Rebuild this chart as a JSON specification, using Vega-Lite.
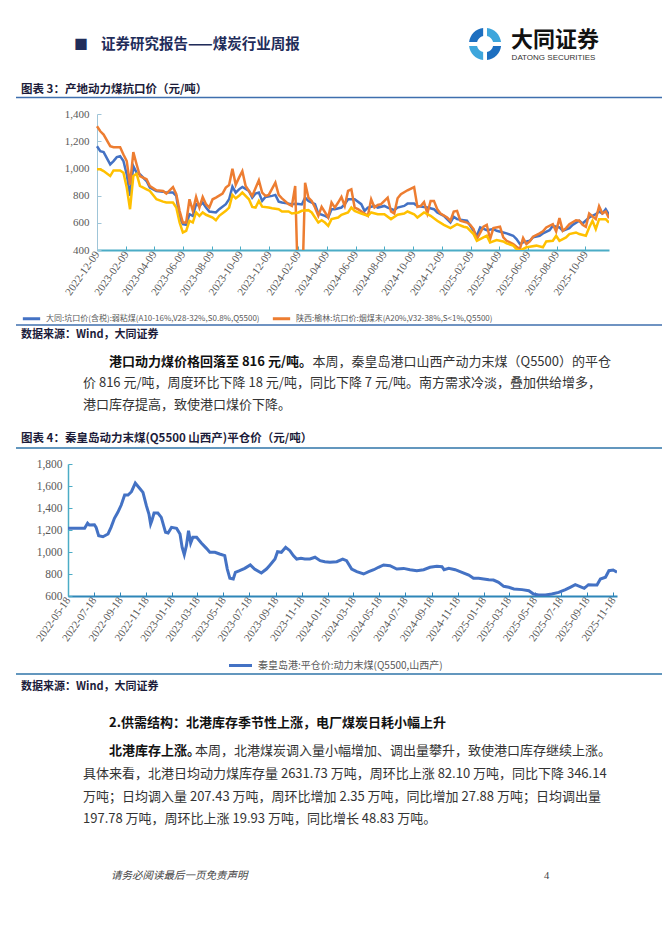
{
"$schema": "https://vega.github.io/schema/vega-lite/v6.json",
"background": "white",
"padding": {"left": 15, "top": 0, "right": 0, "bottom": 0},
"bounds": "flush",
"spacing": 0,
"resolve": {"scale": {"color": "independent"}, "legend": {"color": "independent"}},
"config": {
  "view": {"stroke": null},
  "font": "Noto Sans CJK SC",
  "text": {"font": "Noto Sans CJK SC", "baseline": "middle", "align": "left", "color": "#222222"},
  "axis": {"grid": false, "title": null, "labelFont": "Liberation Serif", "labelColor": "#595959", "labelFlush": false, "labelOverlap": false}
},
"datasets": {
"dt": [
{"date":"2022-12-09","v":1163},{"date":"2022-12-16","v":1127},{"date":"2022-12-23","v":1120},{"date":"2023-01-06","v":1029},{"date":"2023-01-13","v":1054},{"date":"2023-01-20","v":1083},{"date":"2023-01-27","v":1090},{"date":"2023-02-03","v":1054},{"date":"2023-02-10","v":956},{"date":"2023-02-17","v":798},{"date":"2023-02-24","v":1017},{"date":"2023-03-03","v":968},{"date":"2023-03-10","v":956},{"date":"2023-03-24","v":907},{"date":"2023-03-31","v":859},{"date":"2023-04-14","v":834},{"date":"2023-04-28","v":829},{"date":"2023-05-05","v":822},{"date":"2023-05-19","v":822},{"date":"2023-05-26","v":798},{"date":"2023-06-02","v":639},{"date":"2023-06-09","v":590},{"date":"2023-06-16","v":585},{"date":"2023-06-23","v":663},{"date":"2023-06-30","v":651},{"date":"2023-07-07","v":737},{"date":"2023-07-14","v":724},{"date":"2023-07-21","v":749},{"date":"2023-07-28","v":712},{"date":"2023-08-04","v":683},{"date":"2023-08-18","v":676},{"date":"2023-08-25","v":700},{"date":"2023-09-08","v":737},{"date":"2023-09-15","v":773},{"date":"2023-09-22","v":866},{"date":"2023-09-29","v":822},{"date":"2023-10-06","v":846},{"date":"2023-10-13","v":863},{"date":"2023-10-27","v":834},{"date":"2023-11-03","v":785},{"date":"2023-11-10","v":815},{"date":"2023-11-17","v":822},{"date":"2023-11-24","v":761},{"date":"2023-12-01","v":790},{"date":"2023-12-15","v":798},{"date":"2023-12-22","v":805},{"date":"2023-12-29","v":756},{"date":"2024-01-05","v":749},{"date":"2024-01-19","v":741},{"date":"2024-01-26","v":737},{"date":"2024-02-02","v":740},{"date":"2024-02-09","v":738},{"date":"2024-02-16","v":735},{"date":"2024-02-23","v":785},{"date":"2024-03-01","v":761},{"date":"2024-03-15","v":737},{"date":"2024-03-22","v":668},{"date":"2024-04-05","v":651},{"date":"2024-04-12","v":639},{"date":"2024-04-19","v":700},{"date":"2024-04-26","v":700},{"date":"2024-05-10","v":712},{"date":"2024-05-17","v":737},{"date":"2024-05-24","v":773},{"date":"2024-05-31","v":773},{"date":"2024-06-07","v":773},{"date":"2024-06-21","v":737},{"date":"2024-06-28","v":688},{"date":"2024-07-05","v":712},{"date":"2024-07-19","v":724},{"date":"2024-07-26","v":712},{"date":"2024-08-09","v":724},{"date":"2024-08-16","v":712},{"date":"2024-08-30","v":693},{"date":"2024-09-06","v":712},{"date":"2024-09-20","v":724},{"date":"2024-09-27","v":741},{"date":"2024-10-11","v":741},{"date":"2024-10-18","v":724},{"date":"2024-11-01","v":717},{"date":"2024-11-08","v":712},{"date":"2024-11-22","v":700},{"date":"2024-11-29","v":676},{"date":"2024-12-13","v":651},{"date":"2024-12-27","v":602},{"date":"2025-01-03","v":644},{"date":"2025-01-10","v":627},{"date":"2025-01-24","v":619},{"date":"2025-01-31","v":615},{"date":"2025-02-14","v":541},{"date":"2025-02-21","v":505},{"date":"2025-02-28","v":566},{"date":"2025-03-14","v":546},{"date":"2025-03-28","v":554},{"date":"2025-04-04","v":541},{"date":"2025-04-18","v":529},{"date":"2025-04-25","v":522},{"date":"2025-05-09","v":505},{"date":"2025-05-16","v":480},{"date":"2025-05-23","v":444},{"date":"2025-05-30","v":456},{"date":"2025-06-13","v":468},{"date":"2025-06-20","v":493},{"date":"2025-07-04","v":505},{"date":"2025-07-11","v":522},{"date":"2025-07-25","v":546},{"date":"2025-08-01","v":578},{"date":"2025-08-15","v":566},{"date":"2025-08-22","v":541},{"date":"2025-09-05","v":561},{"date":"2025-09-12","v":585},{"date":"2025-09-26","v":615},{"date":"2025-10-03","v":595},{"date":"2025-10-17","v":639},{"date":"2025-10-24","v":651},{"date":"2025-10-31","v":663},{"date":"2025-11-07","v":683},{"date":"2025-11-14","v":668},{"date":"2025-11-21","v":700},{"date":"2025-11-28","v":659}
],
"sx": [
{"date":"2022-12-09","v":1310},{"date":"2022-12-16","v":1273},{"date":"2022-12-23","v":1249},{"date":"2023-01-06","v":1163},{"date":"2023-01-13","v":1156},{"date":"2023-01-27","v":1156},{"date":"2023-02-03","v":1102},{"date":"2023-02-10","v":1054},{"date":"2023-02-17","v":880},{"date":"2023-02-24","v":1120},{"date":"2023-03-03","v":1029},{"date":"2023-03-10","v":944},{"date":"2023-03-24","v":920},{"date":"2023-03-31","v":871},{"date":"2023-04-14","v":839},{"date":"2023-04-28","v":834},{"date":"2023-05-05","v":815},{"date":"2023-05-19","v":863},{"date":"2023-05-26","v":810},{"date":"2023-06-02","v":688},{"date":"2023-06-09","v":602},{"date":"2023-06-16","v":602},{"date":"2023-06-23","v":773},{"date":"2023-06-30","v":688},{"date":"2023-07-07","v":790},{"date":"2023-07-14","v":712},{"date":"2023-07-21","v":790},{"date":"2023-07-28","v":737},{"date":"2023-08-04","v":712},{"date":"2023-08-11","v":773},{"date":"2023-08-18","v":785},{"date":"2023-09-01","v":815},{"date":"2023-09-08","v":859},{"date":"2023-09-15","v":878},{"date":"2023-09-22","v":998},{"date":"2023-09-29","v":880},{"date":"2023-10-06","v":932},{"date":"2023-10-13","v":980},{"date":"2023-10-20","v":871},{"date":"2023-10-27","v":834},{"date":"2023-11-03","v":798},{"date":"2023-11-17","v":913},{"date":"2023-11-24","v":822},{"date":"2023-12-01","v":798},{"date":"2023-12-08","v":805},{"date":"2023-12-22","v":895},{"date":"2023-12-29","v":805},{"date":"2024-01-05","v":780},{"date":"2024-01-19","v":737},{"date":"2024-01-26","v":724},{"date":"2024-02-02","v":871},{"date":"2024-02-09","v":0},{"date":"2024-02-16","v":0},{"date":"2024-02-23","v":895},{"date":"2024-03-01","v":785},{"date":"2024-03-08","v":761},{"date":"2024-03-15","v":712},{"date":"2024-03-22","v":651},{"date":"2024-03-29","v":717},{"date":"2024-04-12","v":639},{"date":"2024-04-19","v":749},{"date":"2024-04-26","v":712},{"date":"2024-05-03","v":749},{"date":"2024-05-10","v":790},{"date":"2024-05-17","v":724},{"date":"2024-05-24","v":834},{"date":"2024-05-31","v":846},{"date":"2024-06-07","v":712},{"date":"2024-06-14","v":700},{"date":"2024-06-28","v":668},{"date":"2024-07-05","v":651},{"date":"2024-07-12","v":773},{"date":"2024-07-19","v":712},{"date":"2024-07-26","v":731},{"date":"2024-08-02","v":737},{"date":"2024-08-16","v":785},{"date":"2024-08-23","v":683},{"date":"2024-08-30","v":668},{"date":"2024-09-06","v":780},{"date":"2024-09-13","v":810},{"date":"2024-09-27","v":839},{"date":"2024-10-11","v":863},{"date":"2024-10-18","v":717},{"date":"2024-10-25","v":724},{"date":"2024-11-01","v":753},{"date":"2024-11-08","v":668},{"date":"2024-11-15","v":761},{"date":"2024-11-22","v":761},{"date":"2024-11-29","v":700},{"date":"2024-12-06","v":668},{"date":"2024-12-20","v":639},{"date":"2024-12-27","v":615},{"date":"2025-01-03","v":683},{"date":"2025-01-10","v":688},{"date":"2025-01-17","v":615},{"date":"2025-01-31","v":602},{"date":"2025-02-07","v":585},{"date":"2025-02-14","v":554},{"date":"2025-02-21","v":480},{"date":"2025-03-07","v":571},{"date":"2025-03-14","v":585},{"date":"2025-03-21","v":480},{"date":"2025-03-28","v":561},{"date":"2025-04-11","v":571},{"date":"2025-04-18","v":493},{"date":"2025-04-25","v":468},{"date":"2025-05-09","v":444},{"date":"2025-05-16","v":424},{"date":"2025-05-23","v":407},{"date":"2025-05-30","v":488},{"date":"2025-06-06","v":444},{"date":"2025-06-13","v":463},{"date":"2025-06-20","v":498},{"date":"2025-07-04","v":522},{"date":"2025-07-11","v":537},{"date":"2025-07-18","v":566},{"date":"2025-08-01","v":590},{"date":"2025-08-08","v":537},{"date":"2025-08-15","v":634},{"date":"2025-08-22","v":541},{"date":"2025-08-29","v":561},{"date":"2025-09-05","v":590},{"date":"2025-09-19","v":619},{"date":"2025-09-26","v":615},{"date":"2025-10-03","v":585},{"date":"2025-10-10","v":571},{"date":"2025-10-17","v":668},{"date":"2025-10-31","v":627},{"date":"2025-11-07","v":722},{"date":"2025-11-14","v":668},{"date":"2025-11-21","v":683},{"date":"2025-11-28","v":634}
],
"s3": [
{"date":"2022-12-09","v":993},{"date":"2022-12-16","v":993},{"date":"2022-12-23","v":980},{"date":"2023-01-06","v":944},{"date":"2023-01-13","v":985},{"date":"2023-01-27","v":985},{"date":"2023-02-03","v":968},{"date":"2023-02-10","v":859},{"date":"2023-02-17","v":700},{"date":"2023-02-24","v":944},{"date":"2023-03-03","v":961},{"date":"2023-03-10","v":871},{"date":"2023-03-24","v":846},{"date":"2023-03-31","v":834},{"date":"2023-04-14","v":773},{"date":"2023-04-28","v":756},{"date":"2023-05-05","v":749},{"date":"2023-05-19","v":749},{"date":"2023-05-26","v":712},{"date":"2023-06-02","v":602},{"date":"2023-06-09","v":529},{"date":"2023-06-16","v":541},{"date":"2023-06-23","v":615},{"date":"2023-06-30","v":602},{"date":"2023-07-07","v":676},{"date":"2023-07-14","v":651},{"date":"2023-07-21","v":676},{"date":"2023-07-28","v":659},{"date":"2023-08-11","v":639},{"date":"2023-08-18","v":619},{"date":"2023-08-25","v":651},{"date":"2023-09-08","v":688},{"date":"2023-09-15","v":712},{"date":"2023-09-22","v":805},{"date":"2023-09-29","v":780},{"date":"2023-10-06","v":798},{"date":"2023-10-13","v":822},{"date":"2023-10-27","v":773},{"date":"2023-11-03","v":717},{"date":"2023-11-10","v":712},{"date":"2023-11-17","v":761},{"date":"2023-11-24","v":719},{"date":"2023-12-08","v":712},{"date":"2023-12-15","v":707},{"date":"2023-12-29","v":700},{"date":"2024-01-05","v":683},{"date":"2024-01-19","v":683},{"date":"2024-01-26","v":668},{"date":"2024-02-09","v":676},{"date":"2024-02-16","v":688},{"date":"2024-03-01","v":693},{"date":"2024-03-08","v":676},{"date":"2024-03-22","v":602},{"date":"2024-03-29","v":619},{"date":"2024-04-05","v":602},{"date":"2024-04-12","v":578},{"date":"2024-04-19","v":627},{"date":"2024-05-03","v":639},{"date":"2024-05-10","v":659},{"date":"2024-05-24","v":676},{"date":"2024-05-31","v":712},{"date":"2024-06-07","v":688},{"date":"2024-06-21","v":668},{"date":"2024-07-05","v":651},{"date":"2024-07-12","v":676},{"date":"2024-07-26","v":663},{"date":"2024-08-09","v":663},{"date":"2024-08-23","v":627},{"date":"2024-09-06","v":659},{"date":"2024-09-20","v":668},{"date":"2024-09-27","v":683},{"date":"2024-10-11","v":663},{"date":"2024-10-18","v":639},{"date":"2024-11-01","v":676},{"date":"2024-11-15","v":651},{"date":"2024-11-29","v":615},{"date":"2024-12-13","v":585},{"date":"2024-12-27","v":561},{"date":"2025-01-10","v":590},{"date":"2025-01-24","v":571},{"date":"2025-01-31","v":566},{"date":"2025-02-14","v":517},{"date":"2025-02-21","v":468},{"date":"2025-03-07","v":493},{"date":"2025-03-14","v":505},{"date":"2025-03-21","v":456},{"date":"2025-04-04","v":473},{"date":"2025-04-18","v":463},{"date":"2025-04-25","v":449},{"date":"2025-05-09","v":432},{"date":"2025-05-16","v":407},{"date":"2025-05-23","v":395},{"date":"2025-06-06","v":420},{"date":"2025-06-13","v":424},{"date":"2025-06-27","v":432},{"date":"2025-07-11","v":420},{"date":"2025-07-18","v":463},{"date":"2025-08-01","v":468},{"date":"2025-08-08","v":505},{"date":"2025-08-15","v":468},{"date":"2025-08-29","v":493},{"date":"2025-09-05","v":517},{"date":"2025-09-19","v":529},{"date":"2025-09-26","v":517},{"date":"2025-10-10","v":505},{"date":"2025-10-17","v":566},{"date":"2025-10-24","v":615},{"date":"2025-10-31","v":554},{"date":"2025-11-07","v":627},{"date":"2025-11-21","v":627},{"date":"2025-11-28","v":602}
],
"qhd": [
{"date":"2022-05-18","v":1215},{"date":"2022-06-26","v":1215},{"date":"2022-07-03","v":1261},{"date":"2022-07-07","v":1245},{"date":"2022-07-19","v":1248},{"date":"2022-07-23","v":1224},{"date":"2022-07-29","v":1148},{"date":"2022-08-08","v":1139},{"date":"2022-08-20","v":1164},{"date":"2022-08-27","v":1224},{"date":"2022-09-04","v":1306},{"date":"2022-09-12","v":1361},{"date":"2022-09-20","v":1427},{"date":"2022-09-28","v":1518},{"date":"2022-10-06","v":1518},{"date":"2022-10-14","v":1548},{"date":"2022-10-23","v":1627},{"date":"2022-11-02","v":1579},{"date":"2022-11-10","v":1542},{"date":"2022-11-18","v":1421},{"date":"2022-11-24","v":1345},{"date":"2022-11-28","v":1254},{"date":"2022-12-01","v":1285},{"date":"2022-12-06","v":1354},{"date":"2022-12-15","v":1354},{"date":"2022-12-23","v":1315},{"date":"2023-01-02","v":1179},{"date":"2023-01-08","v":1173},{"date":"2023-01-16","v":1224},{"date":"2023-01-28","v":1215},{"date":"2023-02-05","v":1164},{"date":"2023-02-10","v":1042},{"date":"2023-02-15","v":976},{"date":"2023-02-20","v":1058},{"date":"2023-02-25","v":1194},{"date":"2023-03-02","v":1082},{"date":"2023-03-07","v":1133},{"date":"2023-03-16","v":1133},{"date":"2023-03-27","v":1082},{"date":"2023-04-08","v":1033},{"date":"2023-04-16","v":997},{"date":"2023-04-28","v":997},{"date":"2023-05-09","v":982},{"date":"2023-05-21","v":967},{"date":"2023-05-27","v":845},{"date":"2023-06-02","v":761},{"date":"2023-06-10","v":755},{"date":"2023-06-15","v":815},{"date":"2023-06-25","v":830},{"date":"2023-07-07","v":851},{"date":"2023-07-20","v":882},{"date":"2023-07-30","v":845},{"date":"2023-08-15","v":809},{"date":"2023-08-27","v":845},{"date":"2023-09-03","v":876},{"date":"2023-09-16","v":936},{"date":"2023-09-22","v":1003},{"date":"2023-10-01","v":997},{"date":"2023-10-11","v":1042},{"date":"2023-10-21","v":1012},{"date":"2023-10-29","v":967},{"date":"2023-11-06","v":936},{"date":"2023-11-16","v":942},{"date":"2023-11-25","v":936},{"date":"2023-12-07","v":936},{"date":"2023-12-19","v":952},{"date":"2023-12-31","v":921},{"date":"2024-01-11","v":912},{"date":"2024-01-23","v":906},{"date":"2024-02-08","v":912},{"date":"2024-02-22","v":936},{"date":"2024-03-02","v":921},{"date":"2024-03-14","v":845},{"date":"2024-03-26","v":821},{"date":"2024-04-11","v":800},{"date":"2024-04-23","v":821},{"date":"2024-05-05","v":839},{"date":"2024-05-16","v":861},{"date":"2024-05-28","v":882},{"date":"2024-06-12","v":876},{"date":"2024-06-28","v":845},{"date":"2024-07-14","v":851},{"date":"2024-07-29","v":839},{"date":"2024-08-14","v":830},{"date":"2024-08-30","v":839},{"date":"2024-09-14","v":861},{"date":"2024-09-30","v":870},{"date":"2024-10-12","v":867},{"date":"2024-10-17","v":839},{"date":"2024-10-28","v":851},{"date":"2024-11-12","v":839},{"date":"2024-11-28","v":815},{"date":"2024-12-14","v":791},{"date":"2024-12-25","v":761},{"date":"2025-01-06","v":761},{"date":"2025-01-18","v":755},{"date":"2025-01-30","v":748},{"date":"2025-02-10","v":745},{"date":"2025-02-22","v":724},{"date":"2025-03-06","v":688},{"date":"2025-03-18","v":679},{"date":"2025-03-30","v":664},{"date":"2025-04-18","v":658},{"date":"2025-05-04","v":648},{"date":"2025-05-15","v":618},{"date":"2025-05-27","v":609},{"date":"2025-06-12","v":609},{"date":"2025-06-27","v":618},{"date":"2025-07-13","v":633},{"date":"2025-07-29","v":658},{"date":"2025-08-09","v":679},{"date":"2025-08-21","v":703},{"date":"2025-08-31","v":688},{"date":"2025-09-11","v":670},{"date":"2025-09-21","v":703},{"date":"2025-10-03","v":700},{"date":"2025-10-11","v":700},{"date":"2025-10-19","v":755},{"date":"2025-10-31","v":770},{"date":"2025-11-08","v":830},{"date":"2025-11-18","v":836},{"date":"2025-11-27","v":816}
]
},
"vconcat": [
{
 "width": 647, "height": 80, "data": {"values": [{}]},
 "layer": [
  {"mark": {"type": "text", "text": "■", "dx": 58, "fontSize": 14, "color": "#1f2d5a"},
   "encoding": {"x": {"datum": 0, "type": "quantitative", "scale": {"domain": [0, 1]}, "axis": null}, "y": {"datum": 0.5625, "type": "quantitative", "scale": {"domain": [0, 1], "reverse": true}, "axis": null}}},
  {"mark": {"type": "text", "text": "证券研究报告——煤炭行业周报", "dx": 85, "fontSize": 14.5, "fontWeight": "bold", "color": "#1f2d5a"},
   "encoding": {"x": {"datum": 0, "type": "quantitative", "axis": null}, "y": {"datum": 0.5625, "type": "quantitative", "axis": null}}},
  {"mark": {"type": "point", "shape": "M -0.12 -1 A 1 1 0 0 0 -1 -0.12 L -0.5 -0.12 A 0.5 0.5 0 0 1 -0.12 -0.5 Z M 0.12 1 A 1 1 0 0 0 1 0.12 L 0.5 0.12 A 0.5 0.5 0 0 1 0.12 0.5 Z", "size": 1024, "filled": true, "opacity": 1, "color": "#1d6fc0"},
   "encoding": {"x": {"datum": 0.725, "type": "quantitative", "axis": null}, "y": {"datum": 0.55, "type": "quantitative", "axis": null}}},
  {"mark": {"type": "point", "shape": "M 0.12 -1 A 1 1 0 0 1 1 -0.12 L 0.5 -0.12 A 0.5 0.5 0 0 0 0.12 -0.5 Z M -0.12 1 A 1 1 0 0 1 -1 0.12 L -0.5 0.12 A 0.5 0.5 0 0 0 -0.12 0.5 Z", "size": 1024, "filled": true, "opacity": 1, "color": "#3ea6dc"},
   "encoding": {"x": {"datum": 0.725, "type": "quantitative", "axis": null}, "y": {"datum": 0.55, "type": "quantitative", "axis": null}}},
  {"mark": {"type": "text", "text": "大同证券", "fontSize": 22, "fontWeight": "bold", "color": "#111111"},
   "encoding": {"x": {"datum": 0.765, "type": "quantitative", "axis": null}, "y": {"datum": 0.5, "type": "quantitative", "axis": null}}},
  {"mark": {"type": "text", "text": "DATONG SECURITIES", "font": "Liberation Sans", "fontSize": 8, "color": "#333333"},
   "encoding": {"x": {"datum": 0.766, "type": "quantitative", "axis": null}, "y": {"datum": 0.725, "type": "quantitative", "axis": null}}}
 ]
},
{
 "width": 647, "height": 34, "data": {"values": [{}]},
 "layer": [
  {"mark": {"type": "text", "text": "图表 3：产地动力煤抗口价（元/吨）", "dx": 5, "fontSize": 11.5, "fontWeight": "bold", "color": "#1c1c3a"},
   "encoding": {"x": {"datum": 0, "type": "quantitative", "scale": {"domain": [0, 1]}, "axis": null}, "y": {"datum": 0.294, "type": "quantitative", "scale": {"domain": [0, 1], "reverse": true}, "axis": null}}},
  {"mark": {"type": "rule", "color": "#3f6fae", "strokeWidth": 1.6},
   "encoding": {"x": {"datum": 0, "type": "quantitative", "axis": null}, "x2": {"datum": 1}, "y": {"datum": 0.515, "type": "quantitative", "axis": null}}}
 ]
},
{
 "width": 593, "height": 136,
 "encoding": {
  "x": {"field": "date", "type": "temporal",
    "scale": {"type": "utc", "range": [81, 593], "domain": [{"year": 2022, "month": 12, "date": 9, "utc": true}, {"year": 2025, "month": 11, "date": 28, "utc": true}]},
    "axis": {"format": "%Y-%m-%d", "labelAngle": -55, "labelAlign": "right", "labelBaseline": "middle", "labelFontSize": 11, "tickSize": -4, "labelPadding": 6, "domainColor": "#4bacc6", "domainWidth": 2, "tickColor": "#4bacc6",
      "values": [{"year":2022,"month":12,"date":9,"utc":true},{"year":2023,"month":2,"date":9,"utc":true},{"year":2023,"month":4,"date":9,"utc":true},{"year":2023,"month":6,"date":9,"utc":true},{"year":2023,"month":8,"date":9,"utc":true},{"year":2023,"month":10,"date":9,"utc":true},{"year":2023,"month":12,"date":9,"utc":true},{"year":2024,"month":2,"date":9,"utc":true},{"year":2024,"month":4,"date":9,"utc":true},{"year":2024,"month":6,"date":9,"utc":true},{"year":2024,"month":8,"date":9,"utc":true},{"year":2024,"month":10,"date":9,"utc":true},{"year":2024,"month":12,"date":9,"utc":true},{"year":2025,"month":2,"date":9,"utc":true},{"year":2025,"month":4,"date":9,"utc":true},{"year":2025,"month":6,"date":9,"utc":true},{"year":2025,"month":8,"date":9,"utc":true},{"year":2025,"month":10,"date":9,"utc":true}]}},
  "y": {"field": "v", "type": "quantitative", "scale": {"domain": [400, 1400], "nice": false, "zero": false},
    "axis": {"values": [400, 600, 800, 1000, 1200, 1400], "format": ",.0f", "offset": -81, "labelFontSize": 11, "tickSize": -4, "labelPadding": 12, "domainColor": "#9fc5d8", "tickColor": "#9fc5d8"}}
 },
 "layer": [
  {"data": {"name": "dt"}, "mark": {"type": "line", "strokeWidth": 2.5, "clip": true},
   "encoding": {"color": {"datum": "大同:坑口价(含税):弱粘煤(A10-16%,V28-32%,S0.8%,Q5500)", "type": "nominal",
     "scale": {"domain": ["大同:坑口价(含税):弱粘煤(A10-16%,V28-32%,S0.8%,Q5500)", "陕西:榆林:坑口价:烟煤末(A20%,V32-38%,S<1%,Q5500)", "系列3"], "range": ["#4472c4", "#ed7d31", "#ffc000"]},
     "legend": {"orient": "none", "legendX": 5, "legendY": 194, "direction": "horizontal", "title": null,
       "values": ["大同:坑口价(含税):弱粘煤(A10-16%,V28-32%,S0.8%,Q5500)", "陕西:榆林:坑口价:烟煤末(A20%,V32-38%,S<1%,Q5500)"],
       "symbolType": "stroke", "symbolStrokeWidth": 3, "symbolSize": 300, "labelFont": "Noto Sans CJK SC", "labelFontSize": 8, "labelColor": "#595959", "columnPadding": 6, "labelLimit": 400}}}},
  {"data": {"name": "sx"}, "mark": {"type": "line", "strokeWidth": 2.5, "clip": true},
   "encoding": {"color": {"datum": "陕西:榆林:坑口价:烟煤末(A20%,V32-38%,S<1%,Q5500)", "type": "nominal"}}},
  {"data": {"name": "s3"}, "mark": {"type": "line", "strokeWidth": 2.5, "clip": true},
   "encoding": {"color": {"datum": "系列3", "type": "nominal"}}}
 ]
},
{
 "width": 647, "height": 101, "data": {"values": [{}]},
 "layer": [
  {"mark": {"type": "rule", "color": "#3f6fae", "strokeWidth": 1.6},
   "encoding": {"x": {"datum": 0, "type": "quantitative", "scale": {"domain": [0, 1]}, "axis": null}, "x2": {"datum": 1}, "y": {"datum": 0.7426, "type": "quantitative", "scale": {"domain": [0, 1], "reverse": true}, "axis": null}}},
  {"mark": {"type": "text", "text": "数据来源：Wind，大同证券", "dx": 5, "fontSize": 11, "fontWeight": "bold", "color": "#1c1c3a"},
   "encoding": {"x": {"datum": 0, "type": "quantitative", "axis": null}, "y": {"datum": 0.8416, "type": "quantitative", "axis": null}}}
 ]
},
{
 "width": 647, "height": {"step": 21.5},
 "data": {"values": [
  {"line": 0, "part": "b", "text": "港口动力煤价格回落至 816 元/吨。"},
  {"line": 0, "part": "r", "text": "本周，秦皇岛港口山西产动力末煤（Q5500）的平仓"},
  {"line": 1, "part": "l", "text": "价 816 元/吨，周度环比下降 18 元/吨，同比下降 7 元/吨。南方需求冷淡，叠加供给增多，"},
  {"line": 2, "part": "l", "text": "港口库存提高，致使港口煤价下降。"}
 ]},
 "encoding": {"y": {"field": "line", "type": "ordinal", "axis": null}, "text": {"field": "text"}},
 "layer": [
  {"transform": [{"filter": "datum.part == 'b'"}], "mark": {"type": "text", "fontSize": 13, "fontWeight": "bold", "dx": 93, "color": "#111111"},
   "encoding": {"x": {"datum": 0, "type": "quantitative", "scale": {"domain": [0, 1]}, "axis": null}}},
  {"transform": [{"filter": "datum.part == 'r'"}], "mark": {"type": "text", "fontSize": 13, "align": "right", "dx": -52, "color": "#333333"},
   "encoding": {"x": {"datum": 1, "type": "quantitative", "axis": null}}},
  {"transform": [{"filter": "datum.part == 'l'"}], "mark": {"type": "text", "fontSize": 13, "dx": 67, "color": "#333333"},
   "encoding": {"x": {"datum": 0, "type": "quantitative", "axis": null}}}
 ]
},
{
 "width": 647, "height": 47.5, "data": {"values": [{}]},
 "layer": [
  {"mark": {"type": "text", "text": "图表 4：秦皇岛动力末煤(Q5500 山西产)平仓价（元/吨）", "dx": 5, "fontSize": 11.5, "fontWeight": "bold", "color": "#1c1c3a"},
   "encoding": {"x": {"datum": 0, "type": "quantitative", "scale": {"domain": [0, 1]}, "axis": null}, "y": {"datum": 0.4737, "type": "quantitative", "scale": {"domain": [0, 1], "reverse": true}, "axis": null}}},
  {"mark": {"type": "rule", "color": "#2f74a8", "strokeWidth": 1.6},
   "encoding": {"x": {"datum": 0, "type": "quantitative", "axis": null}, "x2": {"datum": 1}, "y": {"datum": 0.6737, "type": "quantitative", "axis": null}}}
 ]
},
{
 "width": 601, "height": 132,
 "data": {"name": "qhd"},
 "mark": {"type": "line", "strokeWidth": 3, "clip": true},
 "encoding": {
  "x": {"field": "date", "type": "temporal",
    "scale": {"type": "utc", "range": [52, 601], "domain": [{"year": 2022, "month": 5, "date": 18, "utc": true}, {"year": 2025, "month": 11, "date": 27, "utc": true}]},
    "axis": {"format": "%Y-%m-%d", "labelAngle": -55, "labelAlign": "right", "labelBaseline": "middle", "labelFontSize": 11, "tickSize": -4, "labelPadding": 6, "domainColor": "#2e86b8", "domainWidth": 2, "tickColor": "#2e86b8",
      "values": [{"year":2022,"month":5,"date":18,"utc":true},{"year":2022,"month":7,"date":18,"utc":true},{"year":2022,"month":9,"date":18,"utc":true},{"year":2022,"month":11,"date":18,"utc":true},{"year":2023,"month":1,"date":18,"utc":true},{"year":2023,"month":3,"date":18,"utc":true},{"year":2023,"month":5,"date":18,"utc":true},{"year":2023,"month":7,"date":18,"utc":true},{"year":2023,"month":9,"date":18,"utc":true},{"year":2023,"month":11,"date":18,"utc":true},{"year":2024,"month":1,"date":18,"utc":true},{"year":2024,"month":3,"date":18,"utc":true},{"year":2024,"month":5,"date":18,"utc":true},{"year":2024,"month":7,"date":18,"utc":true},{"year":2024,"month":9,"date":18,"utc":true},{"year":2024,"month":11,"date":18,"utc":true},{"year":2025,"month":1,"date":18,"utc":true},{"year":2025,"month":3,"date":18,"utc":true},{"year":2025,"month":5,"date":18,"utc":true},{"year":2025,"month":7,"date":18,"utc":true},{"year":2025,"month":9,"date":18,"utc":true},{"year":2025,"month":11,"date":18,"utc":true}]}},
  "y": {"field": "v", "type": "quantitative", "scale": {"domain": [600, 1800], "nice": false, "zero": false},
    "axis": {"values": [600, 800, 1000, 1200, 1400, 1600, 1800], "format": ",.0f", "offset": -52, "labelFontSize": 11.5, "tickSize": -4, "labelPadding": 10, "domainColor": "#4bacc6", "tickColor": "#4bacc6", "domainWidth": 1.5}},
  "color": {"datum": "秦皇岛港:平仓价:动力末煤(Q5500,山西产)", "type": "nominal", "scale": {"domain": ["秦皇岛港:平仓价:动力末煤(Q5500,山西产)"], "range": ["#4472c4"]},
    "legend": {"orient": "none", "legendX": 211, "legendY": 188, "direction": "horizontal", "title": null,
      "symbolType": "stroke", "symbolStrokeWidth": 3, "symbolSize": 530, "labelFont": "Noto Sans CJK SC", "labelFontSize": 10, "labelColor": "#595959", "labelLimit": 400}}
 }
},
{
 "width": 647, "height": 144, "data": {"values": [{}]},
 "layer": [
  {"mark": {"type": "rule", "color": "#2f74a8", "strokeWidth": 1.6},
   "encoding": {"x": {"datum": 0, "type": "quantitative", "scale": {"domain": [0, 1]}, "axis": null}, "x2": {"datum": 1}, "y": {"datum": 0.5417, "type": "quantitative", "scale": {"domain": [0, 1], "reverse": true}, "axis": null}}},
  {"mark": {"type": "text", "text": "数据来源：Wind，大同证券", "dx": 5, "fontSize": 11, "fontWeight": "bold", "color": "#1c1c3a"},
   "encoding": {"x": {"datum": 0, "type": "quantitative", "axis": null}, "y": {"datum": 0.632, "type": "quantitative", "axis": null}}},
  {"mark": {"type": "text", "text": "2.供需结构：北港库存季节性上涨，电厂煤炭日耗小幅上升", "dx": 93, "fontSize": 13, "fontWeight": "bold", "color": "#111111"},
   "encoding": {"x": {"datum": 0, "type": "quantitative", "axis": null}, "y": {"datum": 0.882, "type": "quantitative", "axis": null}}}
 ]
},
{
 "width": 647, "height": {"step": 22.7},
 "data": {"values": [
  {"line": 0, "part": "b", "text": "北港库存上涨。"},
  {"line": 0, "part": "r", "text": "本周，北港煤炭调入量小幅增加、调出量攀升，致使港口库存继续上涨。"},
  {"line": 1, "part": "l", "text": "具体来看，北港日均动力煤库存量 2631.73 万吨，周环比上涨 82.10 万吨，同比下降 346.14"},
  {"line": 2, "part": "l", "text": "万吨；日均调入量 207.43 万吨，周环比增加 2.35 万吨，同比增加 27.88 万吨；日均调出量"},
  {"line": 3, "part": "l", "text": "197.78 万吨，周环比上涨 19.93 万吨，同比增长 48.83 万吨。"}
 ]},
 "encoding": {"y": {"field": "line", "type": "ordinal", "axis": null}, "text": {"field": "text"}},
 "layer": [
  {"transform": [{"filter": "datum.part == 'b'"}], "mark": {"type": "text", "fontSize": 13, "fontWeight": "bold", "dx": 93, "color": "#111111"},
   "encoding": {"x": {"datum": 0, "type": "quantitative", "scale": {"domain": [0, 1]}, "axis": null}}},
  {"transform": [{"filter": "datum.part == 'r'"}], "mark": {"type": "text", "fontSize": 13, "align": "right", "dx": -52, "color": "#333333"},
   "encoding": {"x": {"datum": 1, "type": "quantitative", "axis": null}}},
  {"transform": [{"filter": "datum.part == 'l'"}], "mark": {"type": "text", "fontSize": 13, "dx": 67, "color": "#333333"},
   "encoding": {"x": {"datum": 0, "type": "quantitative", "axis": null}}}
 ]
},
{
 "width": 647, "height": 106.2, "data": {"values": [{}]},
 "layer": [
  {"mark": {"type": "text", "text": "请务必阅读最后一页免责声明", "dx": 95, "fontSize": 10.5, "fontStyle": "italic", "color": "#444444"},
   "encoding": {"x": {"datum": 0, "type": "quantitative", "scale": {"domain": [0, 1]}, "axis": null}, "y": {"datum": 0.4256, "type": "quantitative", "scale": {"domain": [0, 1], "reverse": true}, "axis": null}}},
  {"mark": {"type": "text", "text": "4", "dx": 528, "font": "Liberation Serif", "fontSize": 10.5, "color": "#444444"},
   "encoding": {"x": {"datum": 0, "type": "quantitative", "axis": null}, "y": {"datum": 0.4256, "type": "quantitative", "axis": null}}}
 ]
}
]
}
